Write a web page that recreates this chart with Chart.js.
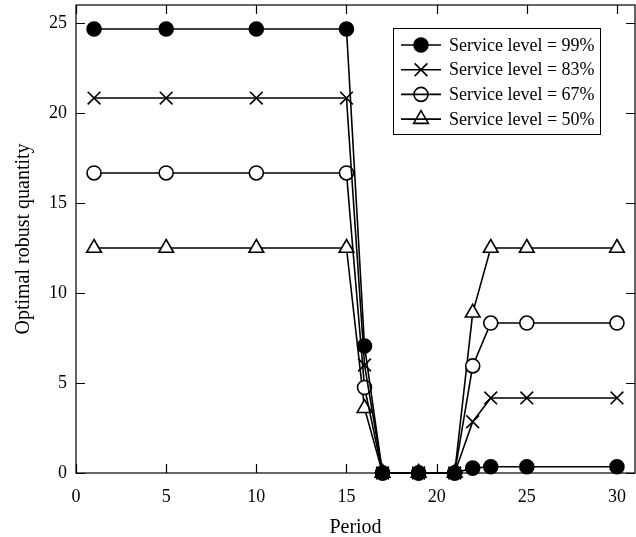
<!DOCTYPE html>
<html>
<head>
<meta charset="utf-8">
<script src="https://cdn.jsdelivr.net/npm/chart.js@4.4.1/dist/chart.umd.min.js"></script>
<style>
  html, body { margin: 0; padding: 0; background: #fff; }
  #wrap { width: 636px; height: 537px; position: relative; }
</style>
</head>
<body>
<div id="wrap"><canvas id="c" width="636" height="537"></canvas></div>
<script>
// Planning periods
const periods = [1, 5, 10, 15, 16, 17, 19, 21, 22, 23, 25, 30];

// Optimal robust order quantity per service level
const level99 = [24.67, 24.67, 24.67, 24.67, 7.05, 0, 0, 0, 0.27, 0.35, 0.35, 0.35];
const level83 = [20.83, 20.83, 20.83, 20.83, 6.0, 0, 0, 0, 2.85, 4.17, 4.17, 4.17];
const level67 = [16.67, 16.67, 16.67, 16.67, 4.75, 0, 0, 0, 5.95, 8.33, 8.33, 8.33];
const level50 = [12.5, 12.5, 12.5, 12.5, 3.6, 0, 0, 0, 8.9, 12.5, 12.5, 12.5];

const seriesLabels = ['Service level = 99%', 'Service level = 83%', 'Service level = 67%', 'Service level = 50%'];
const xTicks = [0, 5, 10, 15, 20, 25, 30];
const yTicks = [0, 5, 10, 15, 20, 25];

const FONT = 'Liberation Serif, Times New Roman, serif';

const markers = [
  { pointStyle: 'circle', radius: 7, bg: '#000' },
  { pointStyle: 'crossRot', radius: 9, bg: '#fff' },
  { pointStyle: 'circle', radius: 7, bg: '#fff' },
  { pointStyle: 'triangle', radius: 8.5, bg: '#fff' }
];

const values = [level99, level83, level67, level50];
const datasets = values.map((vals, i) => ({
  label: seriesLabels[i],
  data: periods.map((p, k) => ({ x: p, y: vals[k] })),
  borderColor: '#000',
  borderWidth: 1.6,
  pointStyle: markers[i].pointStyle,
  pointRadius: markers[i].radius,
  pointBackgroundColor: markers[i].bg,
  pointBorderColor: '#000',
  pointBorderWidth: 1.6,
  tension: 0,
  fill: false,
  clip: false
}));

function drawMarker(ctx, style, r, fill, x, y) {
  ctx.fillStyle = fill;
  ctx.strokeStyle = '#000';
  ctx.lineWidth = 1.6;
  Chart.helpers.drawPoint(ctx, { pointStyle: style, radius: r, borderWidth: 1.6, rotation: 0 }, x, y);
}

// Frame with inward ticks on all four sides, plus the boxed legend
const framePlugin = {
  id: 'frame',
  afterDraw(chart) {
    const { ctx, chartArea: a, scales } = chart;
    ctx.save();
    ctx.strokeStyle = '#000';
    ctx.lineWidth = 1.2;
    ctx.strokeRect(a.left, a.top, a.right - a.left, a.bottom - a.top);
    const tl = 9;
    ctx.beginPath();
    xTicks.forEach(v => {
      const px = Math.round(scales.x.getPixelForValue(v)) + 0.5;
      ctx.moveTo(px, a.bottom); ctx.lineTo(px, a.bottom - tl);
      ctx.moveTo(px, a.top); ctx.lineTo(px, a.top + tl);
    });
    yTicks.forEach(v => {
      const py = Math.round(scales.y.getPixelForValue(v)) + 0.5;
      ctx.moveTo(a.left, py); ctx.lineTo(a.left + tl, py);
      ctx.moveTo(a.right, py); ctx.lineTo(a.right - tl, py);
    });
    ctx.stroke();

    // legend
    const bx = 393, by = 28, bw = 207, bh = 106;
    ctx.fillStyle = '#fff';
    ctx.fillRect(bx, by, bw, bh);
    ctx.lineWidth = 1;
    ctx.strokeStyle = '#000';
    ctx.strokeRect(bx + 0.5, by + 0.5, bw, bh);
    ctx.font = '18px ' + FONT;
    ctx.textBaseline = 'middle';
    chart.data.datasets.forEach((ds, i) => {
      const y = by + 17 + i * 24.7;
      drawMarker(ctx, ds.pointStyle, ds.pointRadius, ds.pointBackgroundColor, bx + 28, y);
      ctx.strokeStyle = '#000';
      ctx.lineWidth = 1.6;
      ctx.beginPath();
      ctx.moveTo(bx + 8, y); ctx.lineTo(bx + 48, y);
      ctx.stroke();
      ctx.fillStyle = '#000';
      ctx.textAlign = 'left';
      ctx.fillText(ds.label, bx + 56, y + 1);
    });
    ctx.restore();
  }
};

new Chart(document.getElementById('c'), {
  type: 'line',
  data: { datasets },
  options: {
    responsive: false,
    animation: false,
    devicePixelRatio: 1,
    layout: { autoPadding: false, padding: { left: 0, right: 1, top: 5, bottom: 0 } },
    plugins: { legend: { display: false }, tooltip: { enabled: false } },
    scales: {
      x: {
        type: 'linear',
        min: 0, max: 31,
        border: { display: false },
        grid: { display: false, drawTicks: false },
        afterBuildTicks: s => { s.ticks = xTicks.map(v => ({ value: v })); },
        afterFit: s => { s.height = 64; s.paddingLeft = 0; s.paddingRight = 0; },
        ticks: { color: '#000', font: { family: FONT, size: 18 }, padding: 13, maxRotation: 0 },
        title: { display: true, text: 'Period', color: '#000', font: { family: FONT, size: 20 }, padding: { top: 0, bottom: -3 } }
      },
      y: {
        min: 0, max: 26,
        border: { display: false },
        grid: { display: false, drawTicks: false },
        afterBuildTicks: s => { s.ticks = yTicks.map(v => ({ value: v })); },
        afterFit: s => { s.width = 76; s.paddingTop = 0; s.paddingBottom = 0; },
        ticks: { color: '#000', font: { family: FONT, size: 18 }, padding: 9 },
        title: { display: true, text: 'Optimal robust quantity', color: '#000', font: { family: FONT, size: 20 }, padding: { top: 12, bottom: 0 } }
      }
    }
  },
  plugins: [framePlugin]
});
</script>
</body>
</html>
